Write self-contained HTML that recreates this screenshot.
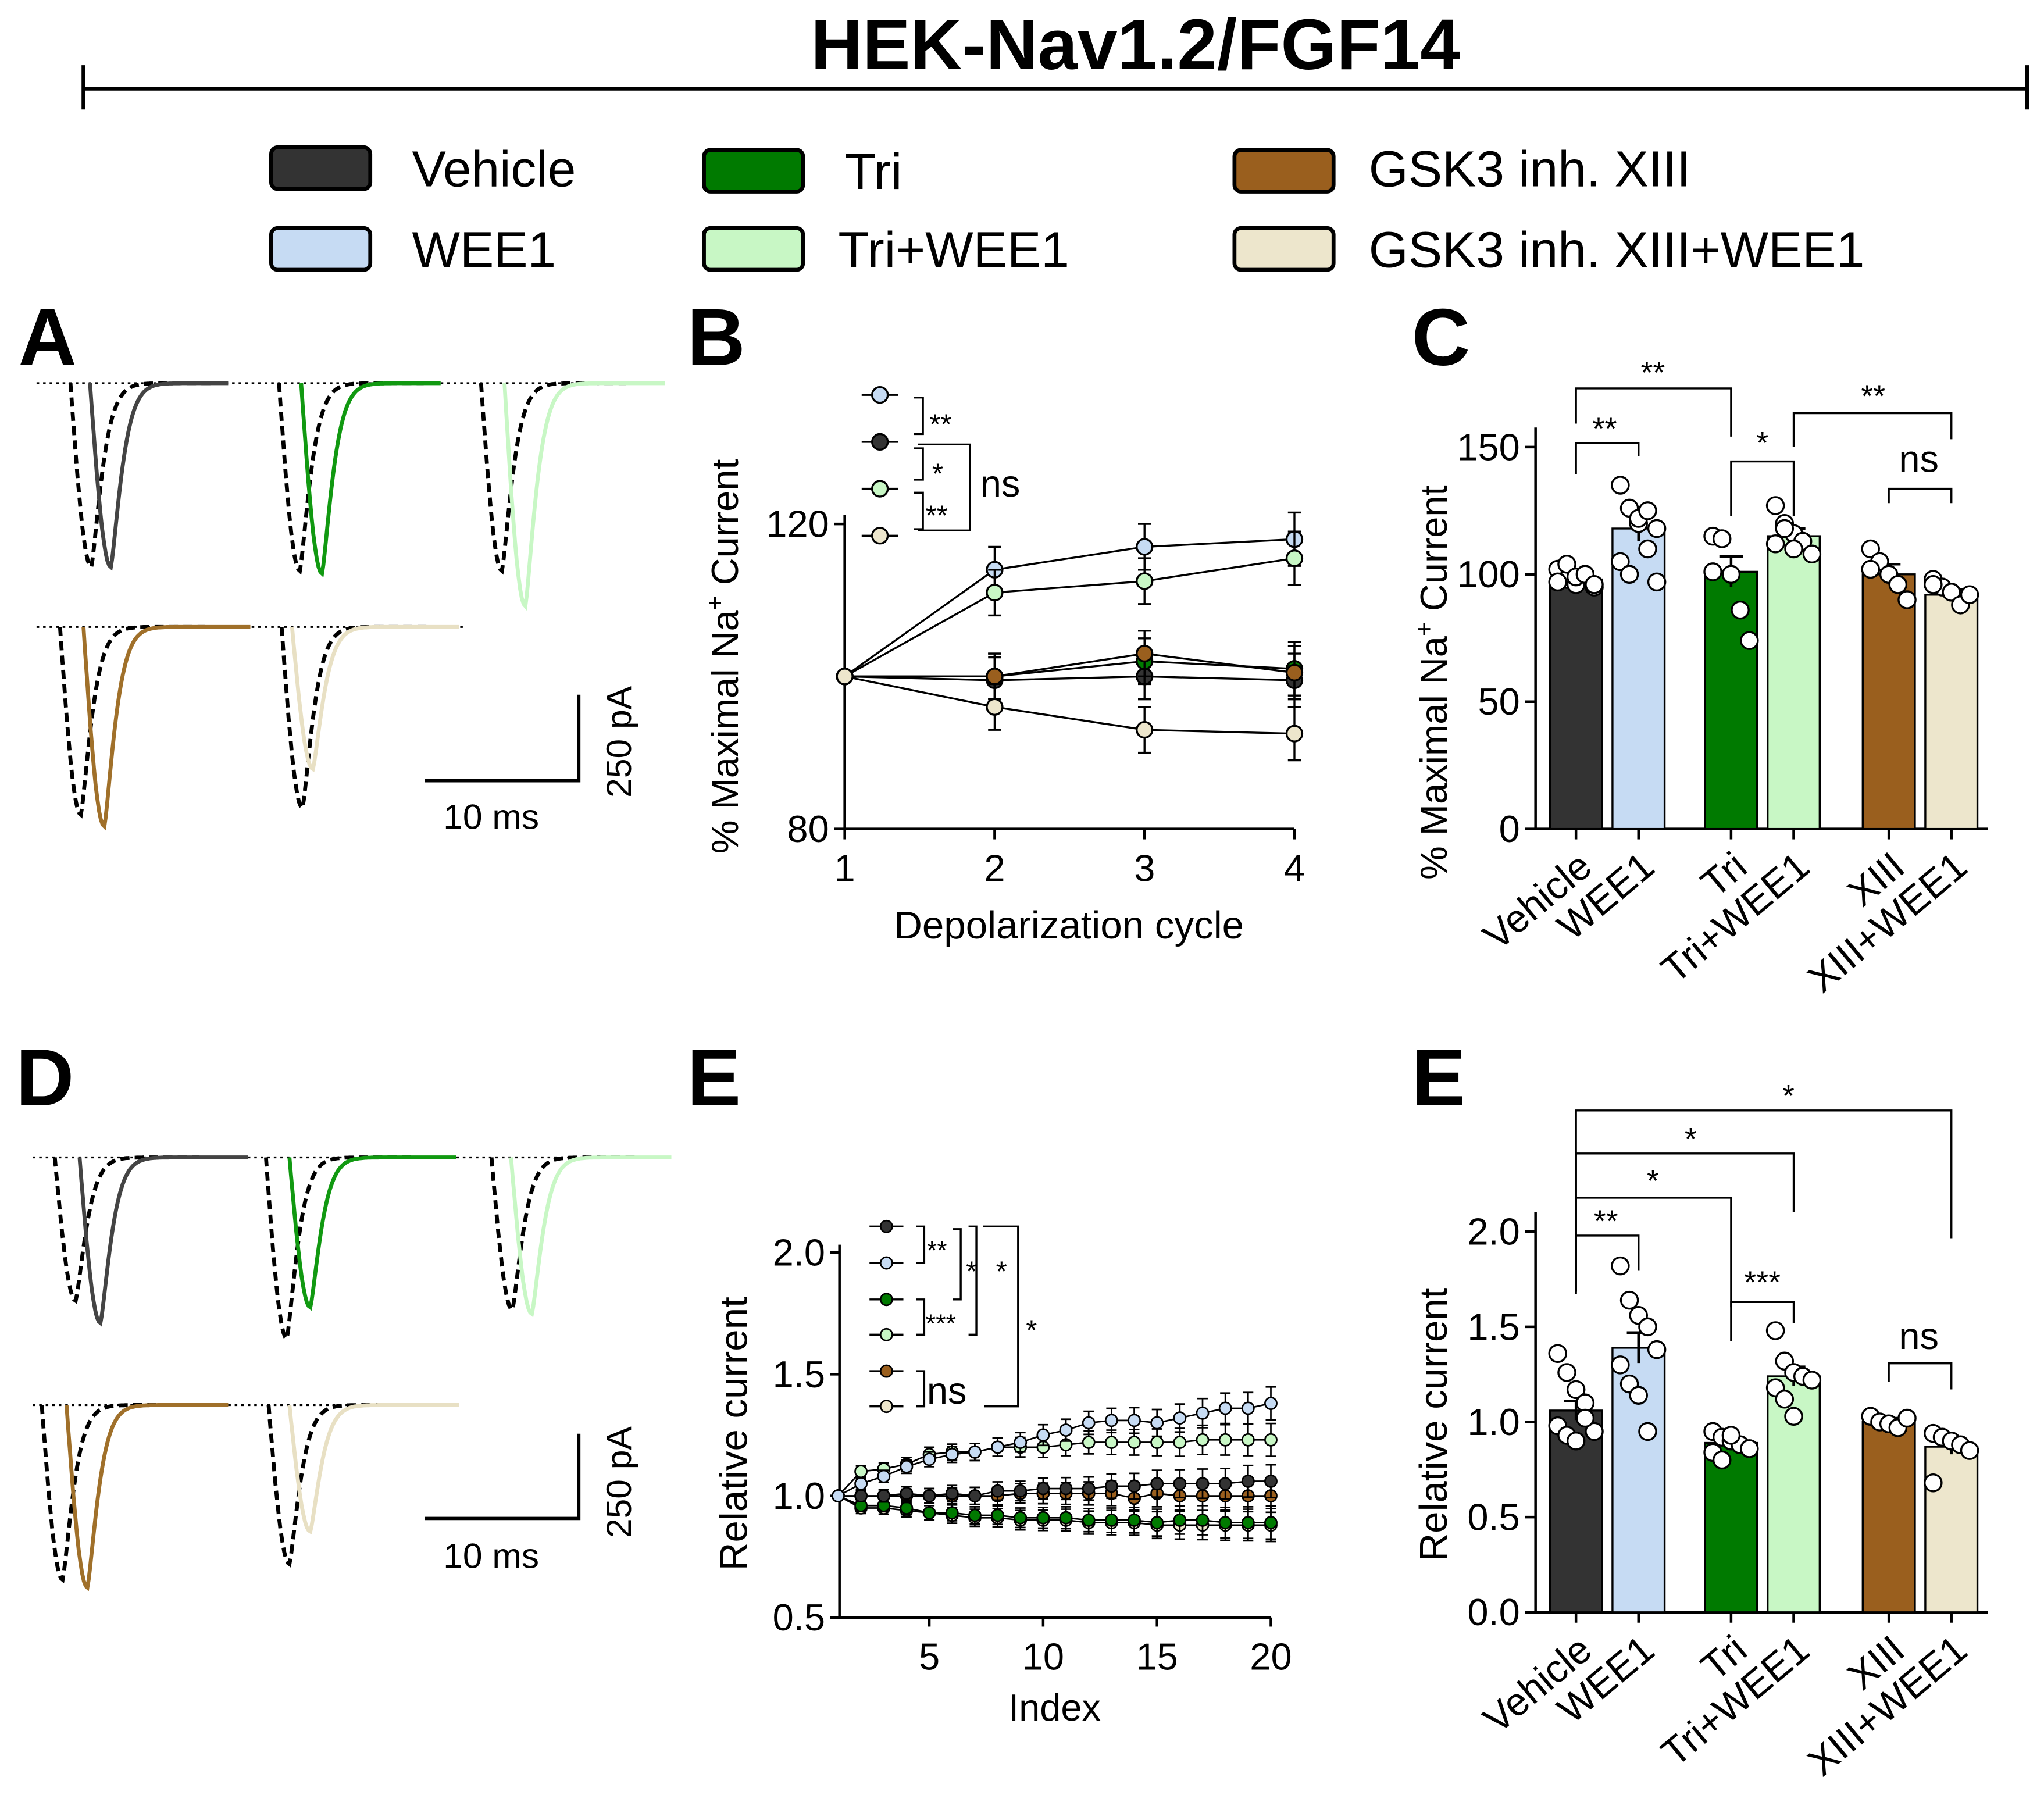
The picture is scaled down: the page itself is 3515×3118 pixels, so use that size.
<!DOCTYPE html>
<html><head><meta charset="utf-8"><style>
html,body{margin:0;padding:0;background:#fff}
svg{display:block}
text{font-family:"Liberation Sans",Arial,sans-serif;fill:#000}
</style></head><body>
<svg id="fig" width="3515" height="3118" viewBox="0 0 1568 1391" xmlns="http://www.w3.org/2000/svg">
<g id="static">
<text x="871" y="53" font-size="55" font-weight="bold" text-anchor="middle">HEK-Nav1.2/FGF14</text>
<g stroke="#000" stroke-width="3"><line x1="64" y1="68" x2="1555" y2="68"/><line x1="64" y1="50" x2="64" y2="84"/><line x1="1555" y1="50" x2="1555" y2="84"/></g>
<g font-size="39">
<g><rect x="208" y="113" width="76" height="32" rx="5" fill="#333" stroke="#000" stroke-width="3"/><text x="316" y="143">Vehicle</text></g>
<g><rect x="208" y="175" width="76" height="32" rx="5" fill="#c6dbf3" stroke="#000" stroke-width="3"/><text x="316" y="205">WEE1</text></g>
<g><rect x="540" y="115" width="76" height="32" rx="5" fill="#007a00" stroke="#000" stroke-width="3"/><text x="648" y="145">Tri</text></g>
<g><rect x="540" y="175" width="76" height="32" rx="5" fill="#c8f7c5" stroke="#000" stroke-width="3"/><text x="643" y="205">Tri+WEE1</text></g>
<g><rect x="947" y="115" width="76" height="32" rx="5" fill="#9a5f1e" stroke="#000" stroke-width="3"/><text x="1050" y="143">GSK3 inh. XIII</text></g>
<g><rect x="947" y="175" width="76" height="32" rx="5" fill="#ede6cc" stroke="#000" stroke-width="3"/><text x="1050" y="205">GSK3 inh. XIII+WEE1</text></g>
</g>
<g font-size="62" font-weight="bold">
<text x="14" y="280">A</text>
<text x="527" y="280">B</text>
<text x="1083" y="280">C</text>
<text x="12" y="848">D</text>
<text x="527" y="848">E</text>
<text x="1083" y="848">E</text>
</g>
<g><path d="M326 599H444V533" fill="none" stroke="#000" stroke-width="2.5"/><text x="340" y="636" font-size="27">10 ms</text><text transform="translate(484 612) rotate(-90)" font-size="27">250 pA</text></g>
<g><path d="M326 1165H444V1100" fill="none" stroke="#000" stroke-width="2.5"/><text x="340" y="1203" font-size="27">10 ms</text><text transform="translate(484 1180) rotate(-90)" font-size="27">250 pA</text></g>
</g>
<g id="traces"></g>
<g id="panelB"></g>
<g id="panelC"></g>
<g id="panelE"></g>
<g id="panelF"></g>
</svg>
<script>
const NS="http://www.w3.org/2000/svg";
function el(p,t,a,txt){const e=document.createElementNS(NS,t);for(const k in a)e.setAttribute(k,a[k]);if(txt!==undefined)e.textContent=txt;p.appendChild(e);return e;}
const COL={veh:"#333333",wee:"#c6dbf3",tri:"#007a00",triw:"#c8f7c5",x:"#9a5f1e",xw:"#ede6cc"};
const TRC={veh:"#444",wee:"#c6dbf3",tri:"#119911",triw:"#c8f7c5",x:"#a0702a",xw:"#e8e0c4"};
function naLabel(g,tx,ty){
 const t=el(g,'text',{transform:`translate(${tx} ${ty}) rotate(-90)`,'font-size':29});
 el(t,'tspan',{},'% Maximal Na');
 el(t,'tspan',{dy:-11,'font-size':19},'+');
 el(t,'tspan',{dy:11},' Current');
}

// ---- traces ----
const tg=document.getElementById('traces');
function trace(g,mx,my,base,color,dash,endx){
  let d="M"+(mx-16)+" "+base;
  for(let i=0;i<=12;i++){const t=i/12;d+=" L"+(mx-16+16*t).toFixed(1)+" "+(base+(my-base)*Math.sin(t*Math.PI/2)).toFixed(1);}
  for(let x=1;x<=endx-mx;x+=1){const f=x<4?(1-0.3*(x/4)*(x/4))*Math.exp(-x/16)/1:Math.exp(-x/16);d+=" L"+(mx+x)+" "+(base+(my-base)*Math.exp(-Math.pow(x,1.3)/22)).toFixed(1);}
  el(g,'path',{d:d,fill:'none',stroke:color,'stroke-width':3,'stroke-dasharray':dash?'7 4':'none'});
}
const baselines=[[28,510,294],[28,355,481],[25,515,888],[25,355,1078]];
baselines.forEach((b,i)=>{const l=el(tg,'line',{x1:b[0],x2:b[1],y1:b[2],y2:b[2],stroke:'#000','stroke-width':1.5,'stroke-dasharray':'2 3'});

});
const traceDefs=[
 [70,435,85,435,294,'veh',175],[230,438,247,440,294,'tri',338],[385,438,403,465,294,'triw',510],
 [62,625,80,634,481,'x',192],[232,620,240,590,481,'xw',352],
 [58,998,77,1015,888,'veh',190],[220,1027,238,1003,888,'tri',350],[393,1005,408,1008,888,'triw',515],
 [48,1212,67,1218,1078,'x',175],[222,1200,238,1175,1078,'xw',352]];
traceDefs.forEach(t=>{const g=el(tg,'g',{});


trace(g,t[0],t[1],t[4],'#000',true,t[0]+95);trace(g,t[2],t[3],t[4],TRC[t[5]],false,t[6]);});

// ---- Panel B ----
const bCycles=[1,2,3,4];
const bVeh=[100,99.5,100,99.5];
const bWee=[100,114,117,118];
const bTri=[100,100,102,101];
const bTriW=[100,111,112.5,115.5];
const bX=[100,100,103,100.5];
const bXW=[100,96,93,92.5];
const bErr=[0,3,3,3.5];
const bYTicks=[80,120];
(function(){
 const g=document.getElementById('panelB');
 const X=v=>648+(v-1)*115, Y=v=>636-(v-80)*234/40;
 el(g,'path',{d:`M648 395V636H993`,fill:'none',stroke:'#000','stroke-width':2});
 bYTicks.forEach(t=>{el(g,'line',{x1:640,x2:648,y1:Y(t),y2:Y(t),stroke:'#000','stroke-width':2});el(g,'text',{x:636,y:Y(t)+10,'font-size':29,'text-anchor':'end'},t);});
 bCycles.forEach(c=>{el(g,'line',{x1:X(c),x2:X(c),y1:636,y2:644,stroke:'#000','stroke-width':2});el(g,'text',{x:X(c),y:676,'font-size':29,'text-anchor':'middle'},c);});
 el(g,'text',{x:820,y:720,'font-size':30,'text-anchor':'middle'},'Depolarization cycle');
 naLabel(g,566,655);
 const ser=[['veh',bVeh],['wee',bWee],['tri',bTri],['triw',bTriW],['x',bX],['xw',bXW]];
 ser.forEach(([k,v])=>{const s=el(g,'g',{});
  
  
  el(s,'path',{d:v.map((y,i)=>(i?'L':'M')+X(bCycles[i])+' '+Y(y)).join(' '),fill:'none',stroke:'#000','stroke-width':1.5});
  v.forEach((y,i)=>{if(bErr[i]){el(s,'path',{d:`M${X(bCycles[i])} ${Y(y+bErr[i])}V${Y(y-bErr[i])}M${X(bCycles[i])-5} ${Y(y+bErr[i])}h10M${X(bCycles[i])-5} ${Y(y-bErr[i])}h10`,stroke:'#000','stroke-width':1.5});}
   el(s,'circle',{cx:X(bCycles[i]),cy:Y(y),r:6,fill:COL[k],stroke:'#000','stroke-width':1.5});});
 });
 const keys=[['wee',303],['veh',339],['tri',375],['xw',411]];
 keys.forEach(([k,y])=>{el(g,'line',{x1:661,x2:689,y1:y,y2:y,stroke:'#000','stroke-width':1.5});el(g,'circle',{cx:675,cy:y,r:6,fill:k==='tri'?COL.triw:COL[k],stroke:'#000','stroke-width':1.5});});
 el(g,'path',{d:'M701 305h7v28h-7M701 344h7v24h-7M701 378h7v28h-7M704 341h40v66h-40',fill:'none',stroke:'#000','stroke-width':1.5});
 el(g,'text',{x:713,y:333,'font-size':22},'**');
 el(g,'text',{x:715,y:371,'font-size':22},'*');
 el(g,'text',{x:710,y:403,'font-size':22},'**');
 el(g,'text',{x:752,y:381,'font-size':29},'ns');
})();

// ---- Bar chart helper ----
const barCats=['Vehicle','WEE1','Tri','Tri+WEE1','XIII','XIII+WEE1'];
const barKeys=['veh','wee','tri','triw','x','xw'];
const barCX=[1209,1257,1328,1376,1449,1497];
const cMeans=[98,118,101,115,100,92];
const cErr=[2,5,6,3,4,2];
const cTicks=[0,50,100,150];
const cPts=[[102,98,96,100,95,97,104,99,100,96],[135,126,120,110,118,105,100,122,125,97],[115,114,100,86,74,101],[127,120,116,113,108,112,118,110],[110,105,100,96,90,102],[98,95,93,88,92,96]];
const fMeans=[1.06,1.39,0.89,1.24,1.0,0.87];
const fErr=[0.05,0.08,0.03,0.05,0.02,0.04];
const fTicks=[0.0,0.5,1.0,1.5,2.0];
const fPts=[[1.36,1.26,1.17,1.1,0.95,0.98,0.93,0.9,1.02],[1.82,1.64,1.56,1.5,1.38,1.3,1.2,1.14,0.95],[0.95,0.92,0.9,0.88,0.86,0.84,0.8,0.93],[1.48,1.32,1.26,1.24,1.22,1.18,1.12,1.03],[1.03,1.0,0.99,0.97,1.02],[0.94,0.92,0.9,0.88,0.85,0.68]];
function barChart(g,means,errs,pts,ticks,Y,fmt,ylabelParts,baseY){
 el(g,'path',{d:`M1178 ${Y(ticks[ticks.length-1])-15}V${baseY}H1525`,fill:'none',stroke:'#000','stroke-width':2});
 ticks.forEach(t=>{el(g,'line',{x1:1170,x2:1178,y1:Y(t),y2:Y(t),stroke:'#000','stroke-width':2});el(g,'text',{x:1166,y:Y(t)+10,'font-size':29,'text-anchor':'end'},fmt(t));});
 means.forEach((m,i)=>{const b=el(g,'rect',{x:barCX[i]-20,y:Y(m),width:40,height:baseY-Y(m),fill:COL[barKeys[i]],stroke:'#000','stroke-width':1.5});
  
  
  el(g,'path',{d:`M${barCX[i]} ${Y(m-errs[i])}V${Y(m+errs[i])}M${barCX[i]-9} ${Y(m+errs[i])}h18`,stroke:'#000','stroke-width':2});
  el(g,'line',{x1:barCX[i],x2:barCX[i],y1:baseY,y2:baseY+8,stroke:'#000','stroke-width':2});
  pts[i].forEach((p,j)=>{el(g,'circle',{cx:barCX[i]+((j%5)-2)*7,cy:Y(p),r:6.5,fill:'#fff',stroke:'#000','stroke-width':1.5});});
  const tx=el(g,'text',{transform:`translate(${barCX[i]+14} ${baseY+32}) rotate(-40)`,'font-size':30,'text-anchor':'end'},barCats[i]);
  
  
 });
 ylabelParts(g);
}
function bracket(g,x1,x2,yTop,y1,y2,label,lx,ly,fs){
 el(g,'path',{d:`M${x1} ${y1}V${yTop}H${x2}V${y2}`,fill:'none',stroke:'#000','stroke-width':1.5});
 el(g,'text',{x:lx,y:ly,'font-size':fs||24,'text-anchor':'middle'},label);
}
// Panel C
(function(){
 const g=document.getElementById('panelC');
 const Y=v=>636-v*293/150;
 barChart(g,cMeans,cErr,cPts,cTicks,Y,t=>t,g=>{naLabel(g,1110,675);},636);
 bracket(g,1209,1257,340,364,350,'**',1231,337);
 bracket(g,1209,1328,298,325,335,'**',1268,294);
 bracket(g,1328,1376,354,396,396,'*',1352,348);
 bracket(g,1376,1497,317,343,337,'**',1437,312);
 bracket(g,1449,1497,375,386,386,'ns',1472,362,29);
})();
// Panel E (time series)
const eIdx=[1,2,3,4,5,6,7,8,9,10,11,12,13,14,15,16,17,18,19,20];
const eVeh=[1,1.0,1.0,1.01,1.0,1.01,1.0,1.02,1.02,1.03,1.03,1.03,1.04,1.04,1.05,1.05,1.05,1.05,1.06,1.06];
const eWee=[1,1.05,1.08,1.12,1.15,1.17,1.18,1.2,1.22,1.25,1.27,1.3,1.31,1.31,1.3,1.32,1.34,1.36,1.36,1.38];
const eTri=[1,0.96,0.96,0.95,0.93,0.93,0.92,0.92,0.91,0.91,0.91,0.9,0.9,0.9,0.89,0.9,0.9,0.89,0.89,0.89];
const eTriW=[1,1.1,1.11,1.13,1.17,1.18,1.18,1.2,1.2,1.2,1.21,1.22,1.22,1.22,1.22,1.22,1.23,1.23,1.23,1.23];
const eX=[1,1,1,1,1,1,1,1,1.01,1.01,1.01,1.01,1.01,0.99,1.01,1.0,1,1,1,1.0];
const eXW=[1,0.95,0.95,0.94,0.93,0.92,0.91,0.91,0.9,0.9,0.9,0.89,0.89,0.89,0.88,0.88,0.88,0.88,0.88,0.88];
const eXTicks=[5,10,15,20];
const eYTicks=[0.5,1.0,1.5,2.0];
(function(){
 const g=document.getElementById('panelE');
 const X=v=>643+(v-1)*17.47, Y=v=>1241-(v-0.5)*280/1.5;
 el(g,'path',{d:`M644 955V1241H975`,fill:'none',stroke:'#000','stroke-width':2});
 eYTicks.forEach(t=>{el(g,'line',{x1:637,x2:644,y1:Y(t),y2:Y(t),stroke:'#000','stroke-width':2});el(g,'text',{x:633,y:Y(t)+10,'font-size':29,'text-anchor':'end'},t.toFixed(1));});
 eXTicks.forEach(t=>{el(g,'line',{x1:X(t),x2:X(t),y1:1241,y2:1248,stroke:'#000','stroke-width':2});el(g,'text',{x:X(t),y:1281,'font-size':29,'text-anchor':'middle'},t);});
 el(g,'text',{x:809,y:1320,'font-size':29,'text-anchor':'middle'},'Index');
 el(g,'text',{transform:'translate(573 1205) rotate(-90)','font-size':30},'Relative current');
 const ser=[['xw',eXW],['tri',eTri],['x',eX],['veh',eVeh],['triw',eTriW],['wee',eWee]];
 ser.forEach(([k,v])=>{const s=el(g,'g',{});
  
  
  el(s,'path',{d:v.map((y,i)=>(i?'L':'M')+X(eIdx[i]).toFixed(1)+' '+Y(y).toFixed(1)).join(' '),fill:'none',stroke:'#000','stroke-width':1.2});
  v.forEach((y,i)=>{if(i){const e=0.02+i*0.0025;el(s,'path',{d:`M${X(eIdx[i])} ${Y(y+e)}V${Y(y-e)}M${X(eIdx[i])-4} ${Y(y+e)}h8M${X(eIdx[i])-4} ${Y(y-e)}h8`,stroke:'#000','stroke-width':1.2});}
   el(s,'circle',{cx:X(eIdx[i]),cy:Y(y),r:4.5,fill:COL[k],stroke:'#000','stroke-width':1.2});});
 });
 const keys=[['veh',941],['wee',969],['tri',997],['triw',1024],['x',1052],['xw',1079]];
 keys.forEach(([k,y])=>{el(g,'line',{x1:667,x2:693,y1:y,y2:y,stroke:'#000','stroke-width':1.5});el(g,'circle',{cx:680,cy:y,r:4.5,fill:COL[k],stroke:'#000','stroke-width':1.2});});
 el(g,'path',{d:'M703 941h6v28h-6M703 997h6v27h-6M731 943h6v54h-6M743 941h6v83h-6M754 941h27v138h-26M703 1052h6v27h-6',fill:'none',stroke:'#000','stroke-width':1.5});
 el(g,'text',{x:711,y:966,'font-size':20},'**');
 el(g,'text',{x:710,y:1022,'font-size':20},'***');
 el(g,'text',{x:741,y:983,'font-size':22},'*');
 el(g,'text',{x:764,y:983,'font-size':22},'*');
 el(g,'text',{x:787,y:1028,'font-size':22},'*');
 el(g,'text',{x:711,y:1077,'font-size':29},'ns');
})();
// Panel F (right E)
(function(){
 const g=document.getElementById('panelF');
 const Y=v=>1237-v*292/2;
 barChart(g,fMeans,fErr,fPts,fTicks,Y,t=>t.toFixed(1),g=>{
  el(g,'text',{transform:'translate(1110 1198) rotate(-90)','font-size':30},'Relative current');
 },1237);
 bracket(g,1209,1257,948,993,975,'**',1232,945);
 bracket(g,1209,1328,919,991,1003,'*',1268,914);
 bracket(g,1209,1376,885,991,930,'*',1297,882);
 bracket(g,1209,1497,852,991,950,'*',1372,849);
 bracket(g,1328,1376,999,1029,1015,'***',1352,992);
 bracket(g,1449,1497,1046,1060,1066,'ns',1472,1035,29);
})();
</script>
</body></html>
